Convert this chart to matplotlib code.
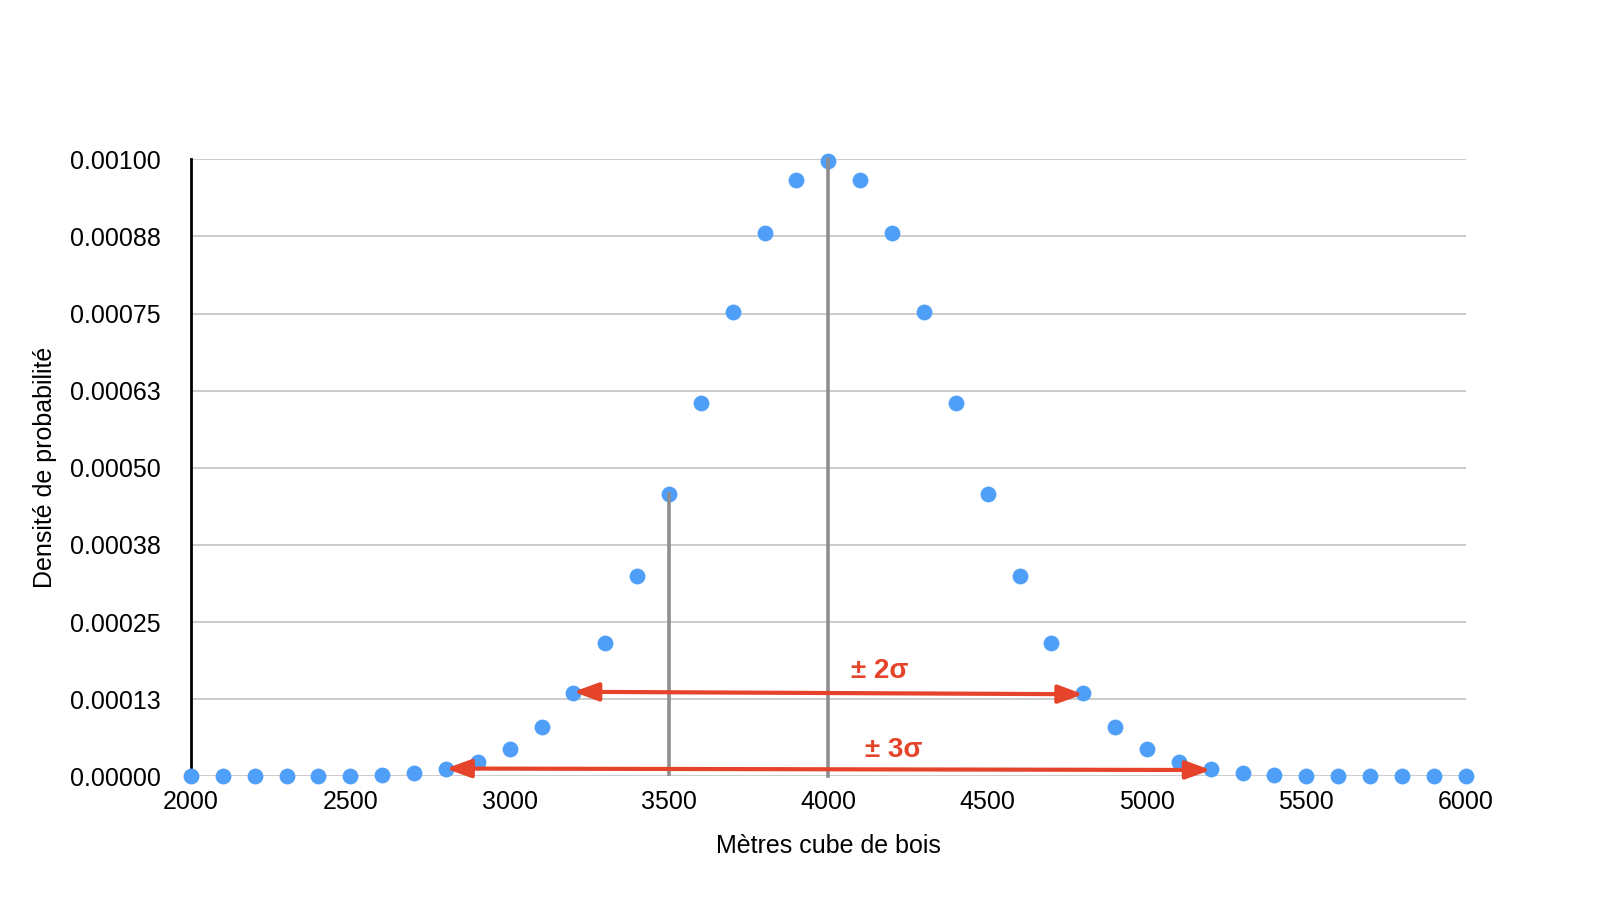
import matplotlib
matplotlib.use("Agg")
import matplotlib.pyplot as plt
from matplotlib.ticker import FixedLocator, FuncFormatter

plt.rcParams['font.family'] = ['Liberation Sans', 'DejaVu Sans']

# Data
volumes = [2000, 2100, 2200, 2300, 2400, 2500, 2600, 2700, 2800, 2900,
           3000, 3100, 3200, 3300, 3400, 3500, 3600, 3700, 3800, 3900,
           4000, 4100, 4200, 4300, 4400, 4500, 4600, 4700, 4800, 4900,
           5000, 5100, 5200, 5300, 5400, 5500, 5600, 5700, 5800, 5900, 6000]
density = [0.0000000, 0.0000000, 0.0000001, 0.0000002, 0.0000004, 0.0000009,
           0.0000022, 0.0000051, 0.0000111, 0.0000227, 0.0000438, 0.0000793,
           0.000135, 0.000216, 0.000324, 0.000457, 0.000605, 0.000753,
           0.000880, 0.000967, 0.000997, 0.000967, 0.000880, 0.000753,
           0.000605, 0.000457, 0.000324, 0.000216, 0.000135, 0.0000793,
           0.0000438, 0.0000227, 0.0000111, 0.0000051, 0.0000022, 0.0000009,
           0.0000004, 0.0000002, 0.0000001, 0.0000000, 0.0000000]
y_ticks = [0.0, 0.000125, 0.00025, 0.000375, 0.0005, 0.000625, 0.00075, 0.000875, 0.001]
x_ticks = [2000, 2500, 3000, 3500, 4000, 4500, 5000, 5500, 6000]

mean_line = (4000, 0.001)
sigma_line = (3500, 0.000457)
arrow_2s = ((3200, 0.000137), (4800, 0.000133))
arrow_3s = ((2800, 0.0000126), (5200, 0.0000102))
label_2s = (4070, 0.00017, "± 2σ")
label_3s = (4115, 0.0000426, "± 3σ")

fig = plt.figure(figsize=(15.98, 9.16), dpi=100)
ax = fig.add_axes([0.1195, 0.1525, 0.7977, 0.6735])

ax.set_xlim(2000, 6000)
ax.set_ylim(0, 0.001)

ax.yaxis.set_major_locator(FixedLocator(y_ticks))
ax.yaxis.set_major_formatter(FuncFormatter(lambda v, p: f"{v:.5f}"))
ax.xaxis.set_major_locator(FixedLocator(x_ticks))
ax.grid(axis='y', color='#bdbdbd', linewidth=1.1, zorder=0)
ax.set_axisbelow(True)

for s in ['top', 'right', 'bottom']:
    ax.spines[s].set_visible(False)
ax.spines['left'].set_linewidth(2)
ax.spines['left'].set_color('black')
ax.tick_params(axis='both', length=0, labelsize=18)
ax.tick_params(axis='y', pad=22)
ax.tick_params(axis='x', pad=10)

ax.scatter(volumes, density, s=130, color='#4f9ef8', zorder=3, clip_on=False, linewidths=0)

ax.plot([mean_line[0], mean_line[0]], [0, mean_line[1]], color='#8e8e8e', lw=2.6, zorder=4, clip_on=False)
ax.plot([sigma_line[0], sigma_line[0]], [0, sigma_line[1]], color='#8e8e8e', lw=2.6, zorder=4)

red = '#e5432a'
for (p0, p1) in [arrow_2s, arrow_3s]:
    ax.annotate('', xy=p1, xytext=p0,
                arrowprops=dict(arrowstyle='<|-|>,head_length=1.5,head_width=0.55',
                                color=red, lw=3, shrinkA=0, shrinkB=0),
                zorder=5)
for (x, y, t) in [label_2s, label_3s]:
    ax.text(x, y, t, color=red, fontsize=20, fontweight='bold', va='center', ha='left', zorder=6)

ax.set_xlabel('Mètres cube de bois', fontsize=18, labelpad=14)
ax.set_ylabel('Densité de probabilité', fontsize=18, labelpad=9)

fig.savefig('out.png', dpi=100)
